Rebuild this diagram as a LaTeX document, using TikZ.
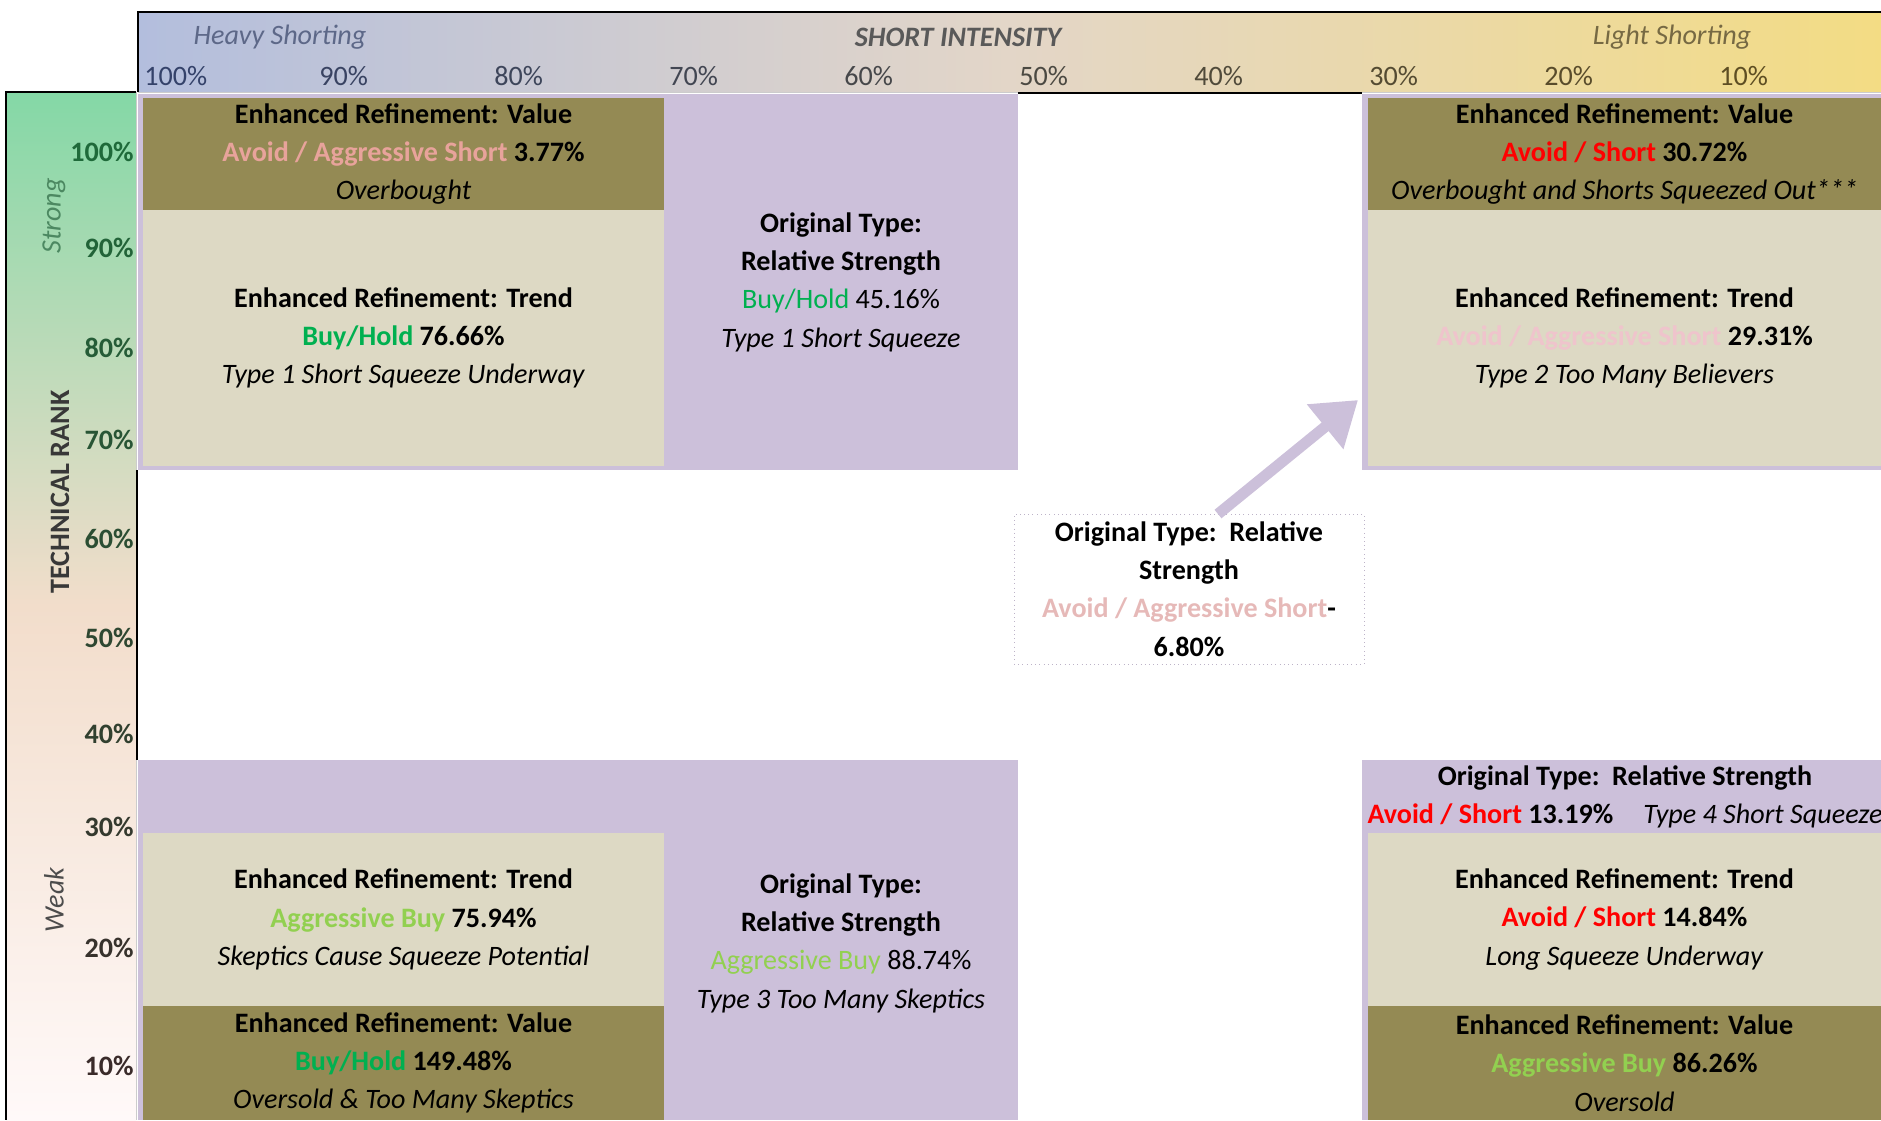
\documentclass[tikz,border=0pt]{standalone}
\usepackage{fontspec}
\setmainfont{Carlito}
\usetikzlibrary{arrows.meta}
\definecolor{cellpurple}{HTML}{CCC0DA}
\definecolor{olivecell}{HTML}{948A54}
\definecolor{beigecell}{HTML}{DDD9C4}
\definecolor{avoidred}{HTML}{FF0000}
\definecolor{buygreen}{HTML}{00B050}
\definecolor{aggbuy}{HTML}{92D050}
\definecolor{pinkA}{HTML}{E8A39B}
\definecolor{pinkB}{HTML}{EFC4CC}
\definecolor{pinkC}{HTML}{E6B9B8}
\definecolor{hdblue}{HTML}{34426A}
\definecolor{hdbrown}{HTML}{5E4E22}
\definecolor{rkgreen}{HTML}{1F6A3A}
\definecolor{rkdark}{HTML}{3A2A2A}
% bar shadings
\definecolor{barleft}{HTML}{B3BEDD}
\definecolor{barmid}{HTML}{E3D6C8}
\definecolor{barright}{HTML}{F3DC84}
\definecolor{ranktop}{HTML}{84D8A6}
\definecolor{rankmid}{HTML}{F2DDCB}
\definecolor{rankbot}{HTML}{FFF9F9}

\begin{document}
\begin{tikzpicture}[%
    x=0.02cm, y=-0.02cm,                            % one unit is one pixel of the original
    node font=\fontsize{16pt}{21.8pt}\selectfont,   % Global text size
    ]
% -------------------------------------------------
% Cell styles
\tikzset{
  base/.style={inner sep=0pt, outer sep=0pt, align=center},
  valu/.style={base, fill=olivecell, minimum height=2.24cm},
  trnd/.style={base, fill=beigecell},
  orig/.style={base},
  wide/.style={minimum width=10.42cm},
  wider/.style={minimum width=10.26cm},
  note/.style={base, draw=cellpurple!80!gray, dotted, thin, minimum width=7cm, minimum height=3cm},
  % axis labels
  xlab/.style={anchor=west, inner sep=0pt},
  ylab/.style={anchor=east, inner sep=0pt, font=\bfseries},
  % connector
  bigarrow/.style={draw=cellpurple, line width=0.22cm,
    -{Triangle[length=0.85cm, width=1.1cm, fill=cellpurple]}},
}
\useasboundingbox (0,0) rectangle (1881,1120);
% -------------------------------------------------
% Axis bars
\shade[left color=barleft, right color=barright, middle color=barmid] (138,12) rectangle (1881,92);
\shade[top color=ranktop, bottom color=rankbot, middle color=rankmid] (6,92) rectangle (136,1120);
\draw[line width=1.2pt] (1881,12) -- (138,12) -- (138,92);
\draw[line width=1.2pt] (136,92) -- (6,92) -- (6,1120);
\draw[gray!40] (138,92) -- (1881,92);
\draw[gray!40] (136,92) -- (136,1120);
\draw[line width=1.2pt] (1018,93) -- (1362,93);
\draw[line width=1.2pt] (137,470) -- (137,760);
% header texts
\node[font=\itshape, text=hdblue!80!white] (heavy) at (280,37) {Heavy Shorting};
\node[font=\bfseries\itshape, text=black!65] (sint) at (958,37) {SHORT INTENSITY};
\node[font=\itshape, text=hdbrown!85!white] (light) at (1672,37) {Light Shorting};
\foreach \p [count=\i from 0] in {100,90,...,10}
  \pgfmathtruncatemacro{\mx}{100-\i*11}
  \node[xlab, text=hdblue!\mx!hdbrown] (x\p) at (144+\i*175,76) {\p\%};
% rank texts
\foreach \p/\yy [count=\i from 0] in {100/152,90/248,80/348,70/440,60/539,50/638,40/734,30/827,20/948,10/1066}
  \pgfmathtruncatemacro{\mx}{100-\i*11}
  \node[ylab, text=rkgreen!\mx!rkdark] (y\p) at (134,\yy) {\p\%};
\node[rotate=90, font=\itshape, text=rkgreen!80!white] (strong) at (54,216) {Strong};
\node[rotate=90, font=\bfseries, text=black!78] (trank) at (60,492) {TECHNICAL RANK};
\node[rotate=90, font=\itshape, text=black!70] (weak) at (54,900) {Weak};
% -------------------------------------------------
% Purple quadrants
\fill[cellpurple] (138,94) rectangle (1018,470);
\fill[cellpurple] (1362,94) rectangle (1881,470);
\fill[cellpurple] (138,760) rectangle (1018,1120);
\fill[cellpurple] (1362,760) rectangle (1881,1120);
% -------------------------------------------------
% Top left
\node[valu, wide] (tlV) at (403.5,154) {\textbf{Enhanced Refinement: Value}\\
  \textbf{\textcolor{pinkA}{Avoid / Aggressive Short} 3.77\%}\\ \textit{Overbought}};
\node[trnd, wide, minimum height=5.12cm] (tlT) at (403.5,338) {\textbf{Enhanced Refinement: Trend}\\
  \textbf{\textcolor{buygreen}{Buy/Hold} 76.66\%}\\ \textit{Type 1 Short Squeeze Underway}};
\node[orig] (tlO) at (841,282) {\textbf{Original Type:}\\ \textbf{Relative Strength}\\
  \textcolor{buygreen}{Buy/Hold} 45.16\%\\ \textit{Type 1 Short Squeeze}};
% Top right
\node[valu, wider] (trV) at (1624.5,154) {\textbf{Enhanced Refinement: Value}\\
  \textbf{\textcolor{avoidred}{Avoid / Short} 30.72\%}\\ \textit{Overbought and Shorts Squeezed Out***}};
\node[trnd, wider, minimum height=5.12cm] (trT) at (1624.5,338) {\textbf{Enhanced Refinement: Trend}\\
  \textbf{\textcolor{pinkB}{Avoid / Aggressive Short} 29.31\%}\\ \textit{Type 2 Too Many Believers}};
% Centre
\node[note] (ctr) at (1189,589) {\textbf{Original Type:\ \ Relative}\\ \textbf{Strength}\\
  \textbf{\textcolor{pinkC}{Avoid / Aggressive Short}-}\\ \textbf{6.80\%}};
\draw[bigarrow] ([xshift=0.58cm]ctr.north) -- ([xshift=-0.2cm, yshift=-1.24cm]trT.west);
% Bottom left
\node[trnd, wide, minimum height=3.46cm] (blT) at (403.5,919.5) {\textbf{Enhanced Refinement: Trend}\\
  \textbf{\textcolor{aggbuy}{Aggressive Buy} 75.94\%}\\ \textit{Skeptics Cause Squeeze Potential}};
\node[valu, wide, minimum height=2.28cm] (blV) at (403.5,1063) {\textbf{Enhanced Refinement: Value}\\
  \textbf{\textcolor{buygreen}{Buy/Hold} 149.48\%}\\ \textit{Oversold \& Too Many Skeptics}};
\node[orig] (blO) at (841,943) {\textbf{Original Type:}\\ \textbf{Relative Strength}\\
  \textcolor{aggbuy}{Aggressive Buy} 88.74\%\\ \textit{Type 3 Too Many Skeptics}};
% Bottom right
\node[orig] (brO) at (1625,797) {\textbf{Original Type:\ \ Relative Strength}\\
  \textbf{\textcolor{avoidred}{Avoid / Short} 13.19\%}\hspace{0.6cm}\textit{Type 4 Short Squeeze}};
\node[trnd, wider, minimum height=3.46cm] (brT) at (1624.5,919.5) {\textbf{Enhanced Refinement: Trend}\\
  \textbf{\textcolor{avoidred}{Avoid / Short} 14.84\%}\\ \textit{Long Squeeze Underway}};
\node[valu, wider, minimum height=2.28cm] (brV) at (1624.5,1063) {\textbf{Enhanced Refinement: Value}\\
  \textbf{\textcolor{aggbuy}{Aggressive Buy} 86.26\%}\\ \textit{Oversold}};
% -------------------------------------------------
\end{tikzpicture}
\end{document}
